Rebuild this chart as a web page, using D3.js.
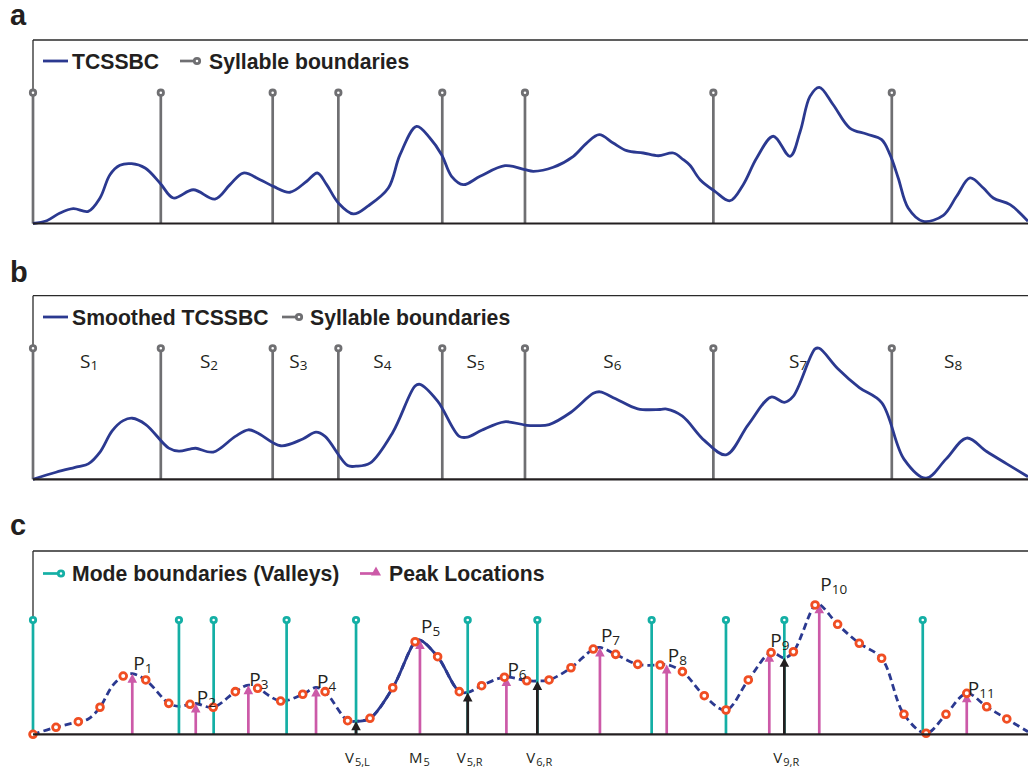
<!DOCTYPE html>
<html><head><meta charset="utf-8">
<script src="https://cdn.jsdelivr.net/npm/d3@7"></script>
<style>body{margin:0;background:#fff} svg{display:block}</style>
</head><body>
<svg id="chart" width="1028" height="769"></svg>
<script>
// ---------------- DATA (time in frames, values normalised) ----------------
// Panel a: raw TCSSBC
const rawT = [0,0.62,1.22,1.82,2.50,3.03,3.48,3.93,4.46,5.07,5.74,6.35,7.25,8.23,8.91,9.51,10.27,10.87,11.62,12.38,12.86,13.28,13.81,14.49,15.16,16.07,16.60,17.35,17.95,18.48,18.93,19.46,20.22,21.35,22.25,22.63,23.53,24.44,25.04,25.61,26.24,26.85,27.60,28.28,28.96,29.41,29.71,30.17,30.84,31.52,32.12,32.73,33.48,34.24,34.70,35.14,35.56,36.19,36.94,37.70,38.38,38.76,39.13,39.58,40.26,41.17,41.77,42.38,42.98,43.43,44.19,45.0];
const rawV = [0,0.021,0.080,0.113,0.093,0.195,0.373,0.445,0.457,0.424,0.310,0.195,0.258,0.187,0.297,0.386,0.335,0.284,0.239,0.323,0.386,0.297,0.157,0.073,0.135,0.271,0.526,0.743,0.654,0.526,0.361,0.297,0.361,0.442,0.411,0.399,0.430,0.514,0.615,0.679,0.615,0.557,0.539,0.518,0.539,0.488,0.445,0.335,0.246,0.174,0.297,0.501,0.667,0.514,0.705,0.972,1.041,0.908,0.730,0.684,0.641,0.526,0.348,0.119,0.017,0.063,0.208,0.348,0.271,0.195,0.144,0.017];

// Syllable boundaries (panels a, b)
const boundaryT = [0,5.78,10.84,13.81,18.51,22.25,30.77,38.84];
const boundaryLevel = 1.0;
const syllableSub = ["1","2","3","4","5","6","7","8"];
const syllableT = [2.13,7.55,11.59,15.39,19.61,25.79,34.19,41.20];

// Smoothed TCSSBC: sampled frames (markers in c) + intermediate detail points
const sampleT = [0,1.04,2.05,3.03,4.08,5.10,6.14,7.10,8.15,9.15,10.16,11.20,12.20,13.21,14.23,15.24,16.27,17.28,18.30,19.28,20.29,21.32,22.33,23.34,24.33,25.34,26.35,27.35,28.36,29.37,30.36,31.34,32.35,33.38,34.39,35.37,36.39,37.37,38.38,39.39,40.39,41.29,42.23,43.13,44.04];
const sampleV = [0,0.054,0.097,0.208,0.448,0.418,0.238,0.231,0.208,0.328,0.354,0.256,0.308,0.328,0.105,0.123,0.358,0.712,0.597,0.328,0.374,0.439,0.412,0.418,0.512,0.656,0.615,0.538,0.533,0.482,0.297,0.187,0.418,0.628,0.635,0.995,0.846,0.700,0.585,0.154,0.008,0.154,0.315,0.212,0.118];
const detailT = [2.50,3.58,4.49,6.60,7.36,9.74,12.80,14.61,17.50,19.66,22.81,25.64,28.66,33.98,35.56,45.0];
const detailV = [0.118,0.370,0.466,0.215,0.237,0.378,0.360,0.100,0.725,0.322,0.410,0.668,0.536,0.588,1.000,0.020];

// Panel c: mode boundaries (valleys), peaks, labelled valleys
const modeT = [0,6.60,8.17,11.47,14.61,19.66,22.81,27.98,31.34,33.98,40.24];
const modeLevel = 0.879;
const peakT = [4.49,7.36,9.74,12.80,17.50,21.41,25.64,28.66,33.30,35.56,42.23];
const peakV = [0.466,0.237,0.378,0.360,0.725,0.440,0.668,0.536,0.628,1.000,0.315];
const peakSub = ["1","2","3","4","5","6","7","8","9","10","11"];
const arrowT = [14.61,19.66,22.81,33.98];
const arrowV = [0.100,0.322,0.410,0.588];
const bottomMain = ["V","M","V","V","V"];
const bottomSub = ["5,L","5","5,R","6,R","9,R"];
const bottomT = [14.61,17.50,19.66,22.81,33.98];
const solidRange = [14.61,19.66];

// ---------------- LAYOUT / STYLE ----------------
const pLabelDy = [-4,1,1,0,-7,-1,-5,-3,-6,-13,2];
const C = {navy:"#2b3990", gray:"#6f6f72", teal:"#14afa5", mag:"#cc5aa8", orange:"#f04e23", black:"#231f20"};
const svg = d3.select("#chart");
const x = d3.scaleLinear().domain([0,45]).range([33,1028]);
const yA = d3.scaleLinear().domain([0,1]).range([223.5,92.7]);
const yB = d3.scaleLinear().domain([0,1]).range([479.3,348.3]);
const yC = d3.scaleLinear().domain([0,1]).range([734.3,604.3]);
const boldFont = "'Liberation Sans', Arial, sans-serif";
const lightFont = "'Open Sans', 'Noto Sans', sans-serif";
const LW = 2.8;

const raw = rawT.map((t,i)=>({t, v:rawV[i]}));
const smooth = sampleT.map((t,i)=>({t, v:sampleV[i]}))
  .concat(detailT.map((t,i)=>({t, v:detailV[i]})))
  .sort((a,b)=>a.t-b.t);
const samples = sampleT.map((t,i)=>({t, v:sampleV[i]}));

function frame(top, y){
  const g = svg.append("g");
  g.append("line").attr("x1",x(0)).attr("x2",x(45)).attr("y1",top).attr("y2",top)
    .attr("stroke","#2a2a2a").attr("stroke-width",1.3);
  g.append("line").attr("x1",x(0)).attr("x2",x(0)).attr("y1",top).attr("y2",y(0))
    .attr("stroke","#2a2a2a").attr("stroke-width",1.3);
  return g;
}
function baseline(y){
  svg.append("line").attr("x1",x(0)).attr("x2",x(45)).attr("y1",y(0)).attr("y2",y(0))
    .attr("stroke","#231f20").attr("stroke-width",2.2);
}
function stems(ts, level, y, color){
  const g = svg.append("g");
  g.selectAll("line").data(ts).join("line")
    .attr("x1",d=>x(d)).attr("x2",d=>x(d)).attr("y1",y(0)).attr("y2",y(level))
    .attr("stroke",color).attr("stroke-width",2.7);
  g.selectAll("circle").data(ts).join("circle")
    .attr("cx",d=>x(d)).attr("cy",y(level)).attr("r",2.7)
    .attr("fill","#fff").attr("stroke",color).attr("stroke-width",2.8);
}
function tri(cx, tipY, w, h){
  return `M${cx},${tipY}L${cx+w},${tipY+h}L${cx-w},${tipY+h}Z`;
}
function panelLabel(txt, yb){
  svg.append("text").attr("x",10).attr("y",yb).text(txt)
    .attr("font-family",boldFont).attr("font-weight","bold").attr("font-size",29).attr("fill","#231f20");
}
function legendText(xp, yp, txt){
  svg.append("text").attr("x",xp).attr("y",yp).text(txt)
    .attr("font-family",boldFont).attr("font-weight","bold").attr("font-size",21.2).attr("fill","#231f20");
}
function legendStemItem(x1, x2, yl, color){
  svg.append("line").attr("x1",x1).attr("x2",x2).attr("y1",yl).attr("y2",yl)
    .attr("stroke",color).attr("stroke-width",2.7);
  svg.append("circle").attr("cx",x2).attr("cy",yl).attr("r",2.7)
    .attr("fill","#fff").attr("stroke",color).attr("stroke-width",2.8);
}
const lineGen = y => d3.line().x(d=>x(d.t)).y(d=>y(d.v)).curve(d3.curveCatmullRom.alpha(0.5));

// ---------------- PANEL A ----------------
panelLabel("a", 25);
frame(40, yA);
stems(boundaryT, boundaryLevel, yA, C.gray);
svg.append("path").datum(raw).attr("d", lineGen(yA)).attr("fill","none")
  .attr("stroke",C.navy).attr("stroke-width",LW);
baseline(yA);
svg.append("line").attr("x1",43).attr("x2",68).attr("y1",61).attr("y2",61).attr("stroke",C.navy).attr("stroke-width",LW);
legendText(72, 68.5, "TCSSBC");
legendStemItem(180, 197, 61, C.gray);
legendText(209, 68.5, "Syllable boundaries");

// ---------------- PANEL B ----------------
panelLabel("b", 282);
frame(295.7, yB);
stems(boundaryT, boundaryLevel, yB, C.gray);
const sl = svg.append("g").attr("font-family",lightFont).attr("fill","#231f20");
syllableT.forEach((t,i)=>{
  const tx = sl.append("text").attr("x",x(t)).attr("y",368.3).attr("font-size",19);
  tx.append("tspan").text("S");
  tx.append("tspan").attr("font-size",13.5).attr("dy",2).text(syllableSub[i]);
});
svg.append("path").datum(smooth).attr("d", lineGen(yB)).attr("fill","none")
  .attr("stroke",C.navy).attr("stroke-width",LW);
baseline(yB);
svg.append("line").attr("x1",43).attr("x2",68).attr("y1",317).attr("y2",317).attr("stroke",C.navy).attr("stroke-width",LW);
legendText(72, 324.5, "Smoothed TCSSBC");
legendStemItem(282, 299, 317, C.gray);
legendText(310, 324.5, "Syllable boundaries");

// ---------------- PANEL C ----------------
panelLabel("c", 535);
frame(551, yC);
// curve
svg.append("path").datum(smooth).attr("d", lineGen(yC)).attr("fill","none")
  .attr("stroke",C.navy).attr("stroke-width",LW).attr("stroke-dasharray","7,4");
svg.append("path").datum(smooth.filter(d=>d.t>=solidRange[0]-1e-6 && d.t<=solidRange[1]+1e-6))
  .attr("d", lineGen(yC)).attr("fill","none").attr("stroke",C.navy).attr("stroke-width",LW);
// mode boundaries
stems(modeT, modeLevel, yC, C.teal);
// peaks
const pk = svg.append("g");
peakT.forEach((t,i)=>{
  pk.append("line").attr("x1",x(t)).attr("x2",x(t)).attr("y1",yC(0)).attr("y2",yC(peakV[i])+6)
    .attr("stroke",C.mag).attr("stroke-width",2.7);
  pk.append("path").attr("d",tri(x(t), yC(peakV[i]), 4.8, 9)).attr("fill",C.mag);
});
// valley arrows
arrowT.forEach((t,i)=>{
  pk.append("line").attr("x1",x(t)).attr("x2",x(t)).attr("y1",yC(0)).attr("y2",yC(arrowV[i])+6)
    .attr("stroke",C.black).attr("stroke-width",2.7);
  pk.append("path").attr("d",tri(x(t), yC(arrowV[i]), 4.8, 9)).attr("fill",C.black);
});
// sample markers
svg.append("g").selectAll("circle").data(samples).join("circle")
  .attr("cx",d=>x(d.t)).attr("cy",d=>yC(d.v)).attr("r",3.4)
  .attr("fill","#fff").attr("stroke",C.orange).attr("stroke-width",2.8);
baseline(yC);
// peak labels
const pl = svg.append("g").attr("font-family",lightFont).attr("fill","#231f20");
peakT.forEach((t,i)=>{
  const tx = pl.append("text").attr("x",x(t)+1).attr("y",yC(peakV[i])+pLabelDy[i]).attr("font-size",19);
  tx.append("tspan").text("P");
  tx.append("tspan").attr("font-size",13.5).attr("dy",3).text(peakSub[i]);
});
// bottom labels
bottomT.forEach((t,i)=>{
  const tx = pl.append("text").attr("x",x(t)-11).attr("y",763).attr("font-size",15);
  tx.append("tspan").text(bottomMain[i]);
  tx.append("tspan").attr("font-size",11).attr("dx",1).attr("dy",3).text(bottomSub[i]);
});
// legend
legendStemItem(43, 61, 573.5, C.teal);
legendText(72, 580.5, "Mode boundaries (Valleys)");
svg.append("line").attr("x1",360).attr("x2",376).attr("y1",573.5).attr("y2",573.5).attr("stroke",C.mag).attr("stroke-width",2.7);
svg.append("path").attr("d",tri(376, 566.5, 5, 9)).attr("fill",C.mag);
legendText(389, 580.5, "Peak Locations");
</script>
</body></html>
